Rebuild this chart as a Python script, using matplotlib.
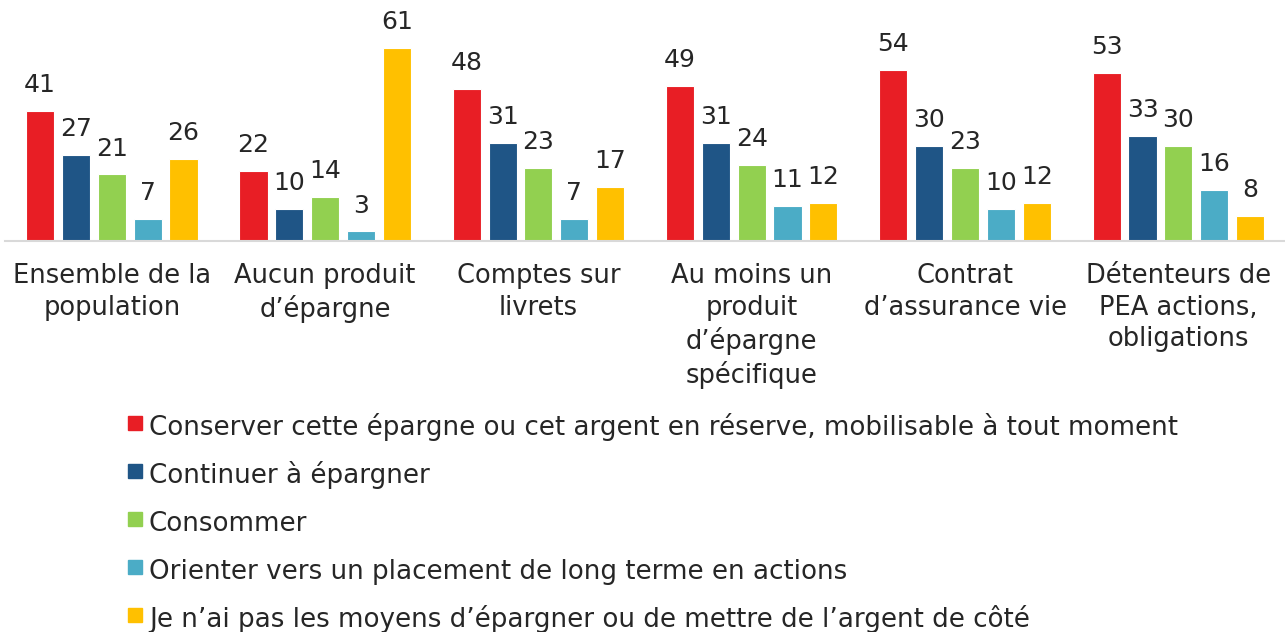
import numpy as np
import matplotlib
matplotlib.use("Agg")
import matplotlib.pyplot as plt
from matplotlib.lines import Line2D

plt.rcParams["font.family"] = ["DejaVu Sans"]

categories = [
    "Ensemble de la\npopulation",
    "Aucun produit\nd\u2019épargne",
    "Comptes sur\nlivrets",
    "Au moins un\nproduit\nd\u2019épargne\nspécifique",
    "Contrat\nd\u2019assurance vie",
    "Détenteurs de\nPEA actions,\nobligations",
]
series_names = [
    "Conserver cette épargne ou cet argent en réserve, mobilisable à tout moment",
    "Continuer à épargner",
    "Consommer",
    "Orienter vers un placement de long terme en actions",
    "Je n\u2019ai pas les moyens d\u2019épargner ou de mettre de l\u2019argent de côté",
]
conserver = [41, 22, 48, 49, 54, 53]
continuer = [27, 10, 31, 31, 30, 33]
consommer = [21, 14, 23, 24, 23, 30]
orienter = [7, 3, 7, 11, 10, 16]
pas_moyens = [26, 61, 17, 12, 12, 8]
colors = ["#E81E25", "#1F5586", "#92D050", "#4BACC6", "#FFC000"]

values = [conserver, continuer, consommer, orienter, pas_moyens]
text_col = "#262626"

fig = plt.figure(figsize=(12.85, 6.32), dpi=100)
ax = fig.add_axes([0.004, 1 - 241 / 632, 0.996, 241 / 632])

x = np.arange(len(categories))
pitch = 0.168
width = 0.132
for i, (vals, col) in enumerate(zip(values, colors)):
    pos = x + (i - 2) * pitch
    bars = ax.bar(pos, vals, width, color=col, edgecolor="white", linewidth=0.8)
    for b, v in zip(bars, vals):
        ax.annotate(str(v), (b.get_x() + b.get_width() / 2, v),
                    xytext=(0, 10), textcoords="offset points",
                    ha="center", va="bottom", fontsize=18, color=text_col)

ax.set_xlim(-0.5, 5.5)
ax.set_ylim(0, 76)
ax.set_yticks([])
ax.set_xticks(x)
ax.set_xticklabels(categories, fontsize=18.5, color=text_col, linespacing=1.28)
ax.tick_params(axis="x", length=0, pad=16)
for s in ["top", "right", "left"]:
    ax.spines[s].set_visible(False)
ax.spines["bottom"].set_color("#D9D9D9")
ax.spines["bottom"].set_linewidth(1.5)

handles = [Line2D([], [], marker="s", linestyle="", markersize=10.5,
                  markerfacecolor=c, markeredgecolor=c) for c in colors]
fig.legend(handles, series_names, loc="upper left",
           bbox_to_anchor=(115 / 1285, 1 - 400 / 632), frameon=False,
           fontsize=18.8, labelcolor=text_col, handlelength=0.7,
           handleheight=1.5, handletextpad=0.2, labelspacing=0.62,
           borderaxespad=0)

fig.savefig("out.png", dpi=100)
